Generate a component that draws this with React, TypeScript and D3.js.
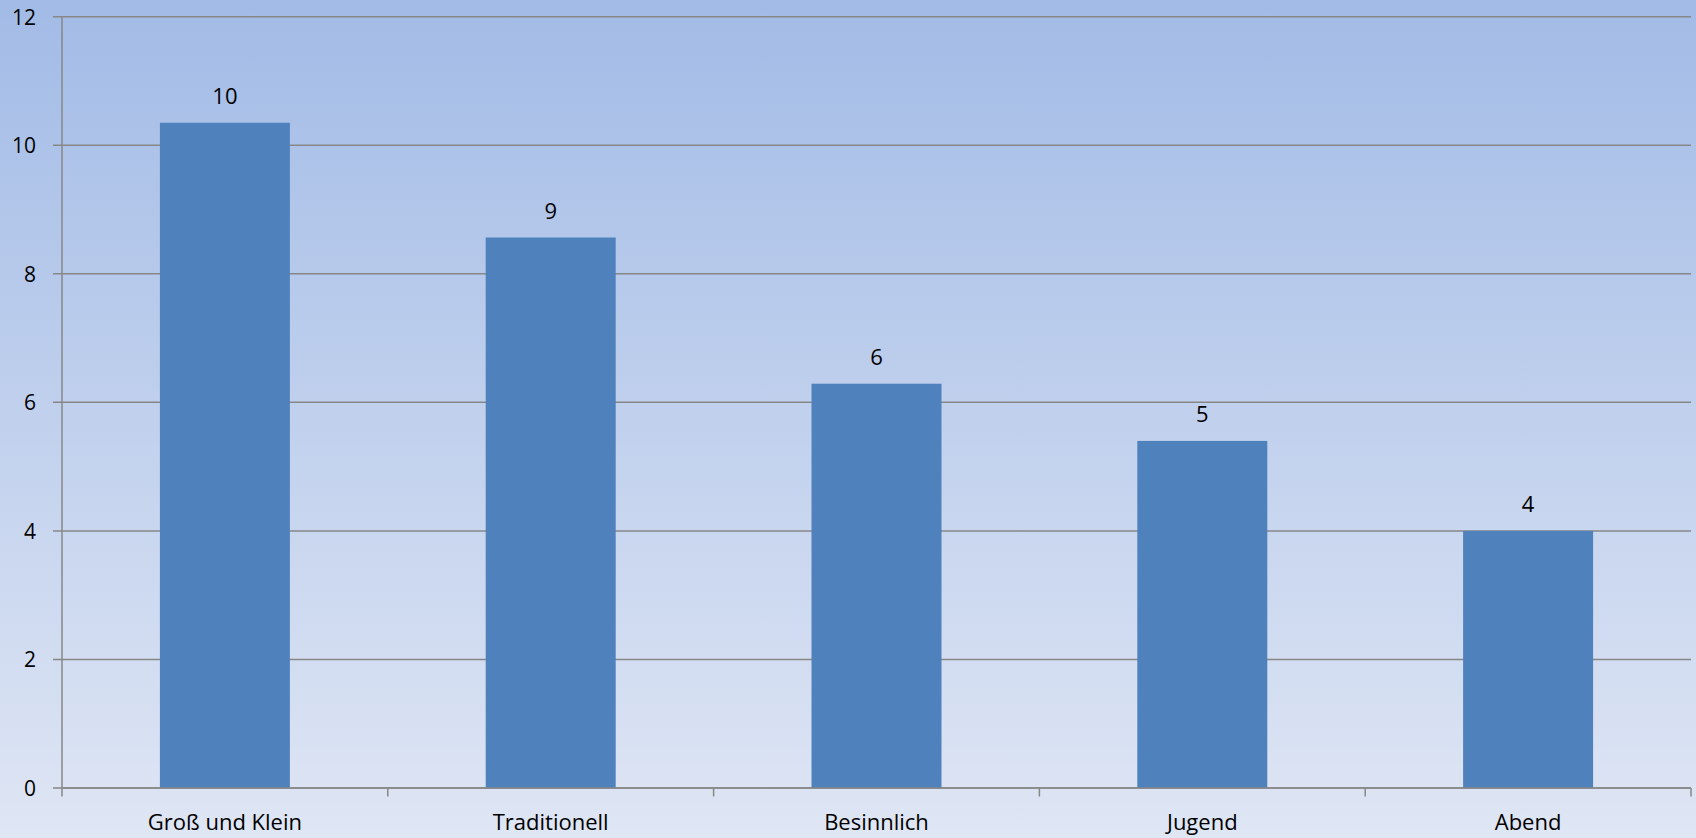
import React from "react";
import * as d3 from "d3";

const categories = ["Groß und Klein", "Traditionell", "Besinnlich", "Jugend", "Abend"];
const values = [10.35, 8.565, 6.29, 5.4, 4.0];
const dataLabels = ["10", "9", "6", "5", "4"];
const yTicks = [0, 2, 4, 6, 8, 10, 12];

const W = 1696;
const H = 838;
const left = 62;
const right = 1691;
const top = 16.7;
const bottom = 788;

export default function App() {
  const x = d3.scaleBand<string>().domain(categories).range([left, right]).paddingInner(0.601).paddingOuter(0.3005);
  const y = d3.scaleLinear().domain([0, 12]).range([bottom, top]);
  const font = "'Open Sans', sans-serif";
  const boundaries = d3.range(categories.length + 1).map((i) => left + ((right - left) / categories.length) * i);

  return (
    <svg width={W} height={H} style={{ position: "fixed", left: 0, top: 0 }}>
      <defs>
        <linearGradient id="bg" x1="0" y1="0" x2="0" y2="1">
          <stop offset="0" stopColor="#a2bbe6" />
          <stop offset="1" stopColor="#dfe6f4" />
        </linearGradient>
      </defs>
      <rect x={0} y={0} width={W} height={H} fill="url(#bg)" />
      {yTicks.map((t) => (
        <g key={t}>
          <line x1={53} x2={right} y1={y(t)} y2={y(t)} stroke="#878787" strokeWidth={1.5} />
          <text x={36} y={y(t)} textAnchor="end" dominantBaseline="central" fontFamily={font} fontSize={21} fill="#000">
            {t}
          </text>
        </g>
      ))}
      <line x1={left} x2={left} y1={top} y2={bottom} stroke="#878787" strokeWidth={1.5} />
      {boundaries.map((bx, i) => (
        <line key={i} x1={bx} x2={bx} y1={bottom} y2={bottom + 8.5} stroke="#878787" strokeWidth={1.5} />
      ))}
      {categories.map((c, i) => (
        <g key={c}>
          <rect x={x(c)!} y={y(values[i])} width={x.bandwidth()} height={bottom - y(values[i])} fill="#4f81bd" />
          <text x={x(c)! + x.bandwidth() / 2} y={y(values[i]) - 18.5} textAnchor="middle" fontFamily={font} fontSize={22} fill="#000">
            {dataLabels[i]}
          </text>
          <text x={x(c)! + x.bandwidth() / 2} y={830} textAnchor="middle" fontFamily={font} fontSize={22} fill="#000">
            {c}
          </text>
        </g>
      ))}
      <line x1={left} x2={right} y1={bottom} y2={bottom} stroke="#878787" strokeWidth={1.5} />
    </svg>
  );
}
